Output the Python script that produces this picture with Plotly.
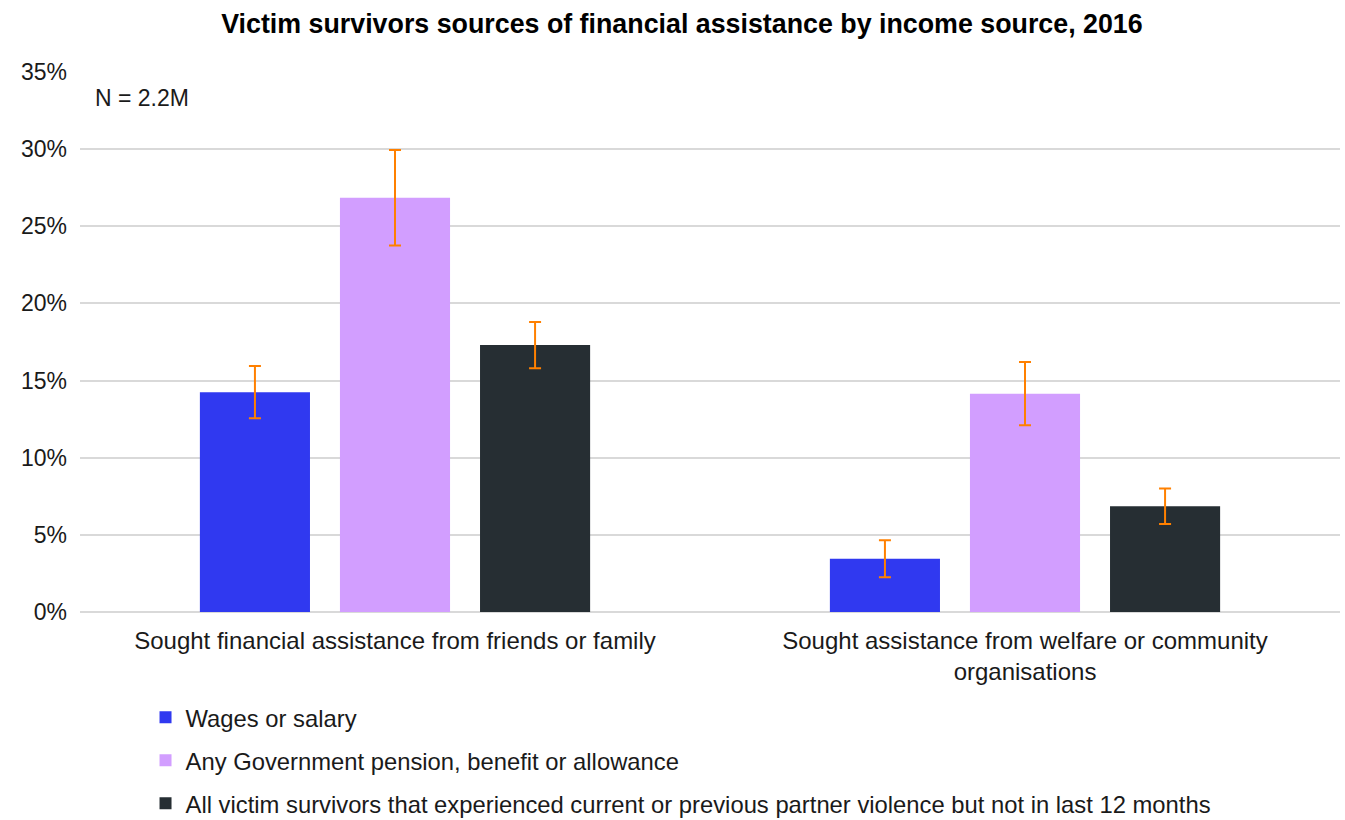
import plotly.graph_objects as go

# Categories and series
categories = [
    "Sought financial assistance from friends or family",
    "Sought assistance from welfare or community<br>organisations",
]
series_names = [
    "Wages or salary",
    "Any Government pension, benefit or allowance",
    "All victim survivors that experienced current or previous partner violence but not in last 12 months",
]
wages = [14.25, 3.45]
government = [26.85, 14.15]
all_victims = [17.3, 6.85]

# Error margins (percentage points)
wages_err = [1.7, 1.2]
government_err = [3.1, 2.05]
all_victims_err = [1.5, 1.15]

y_ticks = [0, 5, 10, 15, 20, 25, 30, 35]
y_tick_labels = ["0%", "5%", "10%", "15%", "20%", "25%", "30%", "35%"]

colors = ["#3039F0", "#D29EFF", "#262E33"]
err_color = "#FF8000"
font_family = "Liberation Sans, Arial, sans-serif"
text_color = "#1a1a1a"

fig = go.Figure()
for i, (name, vals, errs) in enumerate(zip(
        series_names,
        [wages, government, all_victims],
        [wages_err, government_err, all_victims_err])):
    fig.add_trace(go.Bar(
        x=categories,
        y=vals,
        name=name,
        legendgroup=f"g{i}",
        marker=dict(color=colors[i], line=dict(width=0)),
        error_y=dict(type="data", array=errs, visible=True,
                     color=err_color, thickness=2, width=6),
    ))

fig.update_layout(
    width=1345,
    height=820,
    barmode="group",
    bargap=0.333,
    bargroupgap=0.214,
    paper_bgcolor="white",
    plot_bgcolor="white",
    font=dict(family=font_family, size=23, color=text_color),
    title=dict(
        text="<b>Victim survivors sources of financial assistance by income source, 2016</b>",
        x=0.507, xanchor="center", y=0.971, yanchor="middle",
        font=dict(size=26.8, color="#000000"),
    ),
    margin=dict(l=80, r=5, t=72, b=208),
    xaxis=dict(
        showgrid=False, showline=False, ticks="",
        ticklabelstandoff=12,
        tickfont=dict(size=24, color=text_color),
    ),
    yaxis=dict(
        range=[0, 35],
        tickvals=y_ticks,
        ticktext=y_tick_labels,
        showgrid=True, gridcolor="#D9D9D9", gridwidth=2,
        zeroline=True, zerolinecolor="#D9D9D9", zerolinewidth=2,
        showline=False, ticks="", ticklen=0,
        ticklabelstandoff=12,
        tickfont=dict(size=23, color=text_color),
    ),
    legend=dict(
        orientation="v",
        xref="paper", x=0.052, xanchor="left",
        yref="container", y=0.152, yanchor="top",
        traceorder="grouped",
        tracegroupgap=9,
        font=dict(size=23.8, color=text_color),
        bgcolor="rgba(0,0,0,0)",
    ),
    annotations=[
        dict(text="N = 2.2M", xref="paper", yref="paper",
             x=0.01, y=0.952, xanchor="left", yanchor="middle",
             showarrow=False, font=dict(size=23, color=text_color)),
    ],
)

fig.write_html("out.html")
